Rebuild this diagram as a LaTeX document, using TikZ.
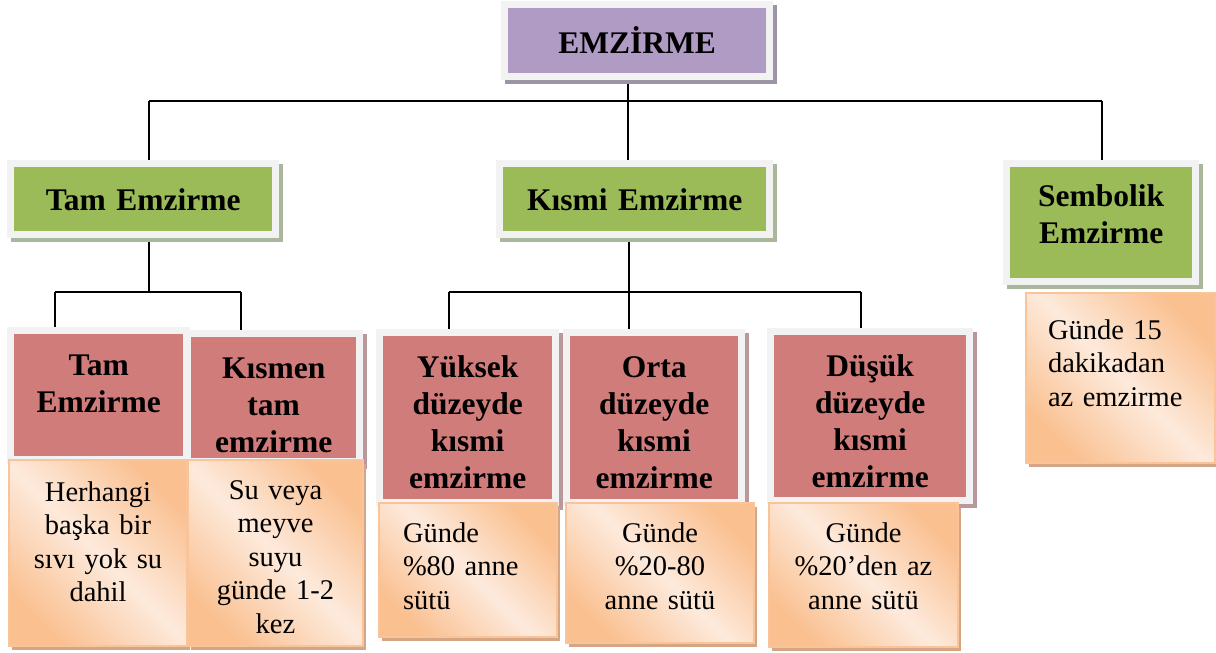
\documentclass[tikz,border=0pt]{standalone}
\usepackage{fontspec}
\setmainfont{Liberation Serif}
\usetikzlibrary{backgrounds}

\definecolor{mor}{HTML}{B09BC5}
\definecolor{morgolge}{HTML}{9E94A8}
\definecolor{yesil}{HTML}{9BBB59}
\definecolor{yesilgolge}{HTML}{A9B79B}
\definecolor{kirmizi}{HTML}{D07C7B}
\definecolor{kirmizigolge}{HTML}{B9979A}
\definecolor{gri}{HTML}{F2F2F2}
\definecolor{turuncu}{HTML}{FAC090}
\definecolor{acik}{HTML}{FDEADC}
\definecolor{turuncukenar}{HTML}{F9C49A}
\definecolor{turuncugolge}{HTML}{D4A686}

\begin{document}
\begin{tikzpicture}[x=1pt, y=-1pt,
    cerceve/.style={preaction={draw=#1, line width=14pt, transform canvas={shift={(3.5pt,-3.5pt)}}},
                    preaction={draw=gri, line width=14pt}},
    kutu/.style={inner sep=0pt, anchor=north west, align=center},
    kalin/.style={font=\fontsize{31.5}{37}\selectfont\bfseries},
    ince/.style={font=\fontsize{28.5}{33.5}\selectfont},
    morkutu/.style={kutu, kalin, fill=mor, cerceve=morgolge, text height=45pt},
    yesilkutu/.style={kutu, kalin, fill=yesil, cerceve=yesilgolge, text height=43pt},
    kirmizikutu/.style={kutu, kalin, fill=kirmizi, cerceve=kirmizigolge, text height=41pt},
    turuncukutu/.style={kutu, ince, draw=turuncukenar, line width=2pt,
                        top color=turuncu, bottom color=turuncu, middle color=acik, shading angle=-45,
                        preaction={fill=turuncugolge, transform canvas={shift={(3pt,-4pt)}}},
                        text height=39pt},
    baglanti/.style={line width=1.3pt}]
    \useasboundingbox (0,0) rectangle (1216,653);
    % ana kutu
    \node[morkutu, text width=258pt, text depth=20pt] (top) at (508,8) {EMZİRME};
    % ikinci seviye
    \node[yesilkutu, text width=258pt, text depth=21pt] (tamG) at (14,167) {Tam Emzirme};
    \node[yesilkutu, text width=263pt, text depth=21pt] (kisG) at (503,167) {Kısmi Emzirme};
    \node[yesilkutu, text width=182pt, text height=39.5pt, text depth=71.5pt] (semG) at (1010,167) {Sembolik\\Emzirme};
    % ucuncu seviye
    \node[kirmizikutu, text width=169pt, text depth=81pt] (tamR) at (14,334) {Tam\\Emzirme};
    \node[kirmizikutu, text width=165pt, text depth=80pt] (kismenR) at (191,337) {Kısmen\\tam\\emzirme};
    \node[kirmizikutu, text width=169pt, text depth=122pt] (yukR) at (383,336) {Yüksek\\düzeyde\\kısmi\\emzirme};
    \node[kirmizikutu, text width=168pt, text depth=122pt] (ortaR) at (570,336) {Orta\\düzeyde\\kısmi\\emzirme};
    \node[kirmizikutu, text width=192pt, text depth=121pt] (dusR) at (774,335) {Düşük\\düzeyde\\kısmi\\emzirme};
    % aciklamalar
    \node[turuncukutu, text width=178pt, text height=41pt, text depth=145pt] (tamO) at (8,459) {Herhangi\\başka bir\\sıvı yok su\\dahil};
    \node[turuncukutu, text width=175pt, text depth=147pt] (kismenO) at (187,459) {Su veya\\meyve\\suyu\\günde 1-2\\kez};
    \node[turuncukutu, text width=130pt, inner xsep=24pt, align=left, text depth=95pt] (yukO) at (378,502) {Günde\\\%80 anne\\sütü};
    \node[turuncukutu, text width=188pt, text depth=101pt] (ortaO) at (565,502) {Günde\\\%20-80\\anne sütü};
    \node[turuncukutu, text width=189pt, text depth=105pt] (dusO) at (768,502) {Günde\\\%20’den az\\anne sütü};
    \node[turuncukutu, text width=145pt, inner xsep=22pt, align=left, text height=46pt, text depth=124pt] (semO) at (1025,292) {Günde 15\\dakikadan\\az emzirme};
    % baglantilar
    \begin{scope}[on background layer]
        \coordinate (b0) at (628,101);
        \coordinate (bL) at (149,101);
        \coordinate (bR) at (1102,101);
        \draw[baglanti] (bL) -- (bR);
        \draw[baglanti] (b0 |- top.south) -- (b0);
        \draw[baglanti] (bL) -- (bL |- tamG.north);
        \draw[baglanti] (b0) -- (b0 |- kisG.north);
        \draw[baglanti] (bR) -- (bR |- semG.north);
        \coordinate (t0) at (149,292);
        \coordinate (tL) at (55,292);
        \coordinate (tR) at (241,292);
        \draw[baglanti] (tL) -- (tR);
        \draw[baglanti] (t0 |- tamG.south) -- (t0);
        \draw[baglanti] (tL) -- (tL |- tamR.north);
        \draw[baglanti] (tR) -- (tR |- kismenR.north);
        \coordinate (k0) at (629,292);
        \coordinate (kL) at (449,292);
        \coordinate (kR) at (861,292);
        \draw[baglanti] (kL) -- (kR);
        \draw[baglanti] (k0 |- kisG.south) -- (k0);
        \draw[baglanti] (kL) -- (kL |- yukR.north);
        \draw[baglanti] (k0) -- (k0 |- ortaR.north);
        \draw[baglanti] (kR) -- (kR |- dusR.north);
    \end{scope}
\end{tikzpicture}
\end{document}
